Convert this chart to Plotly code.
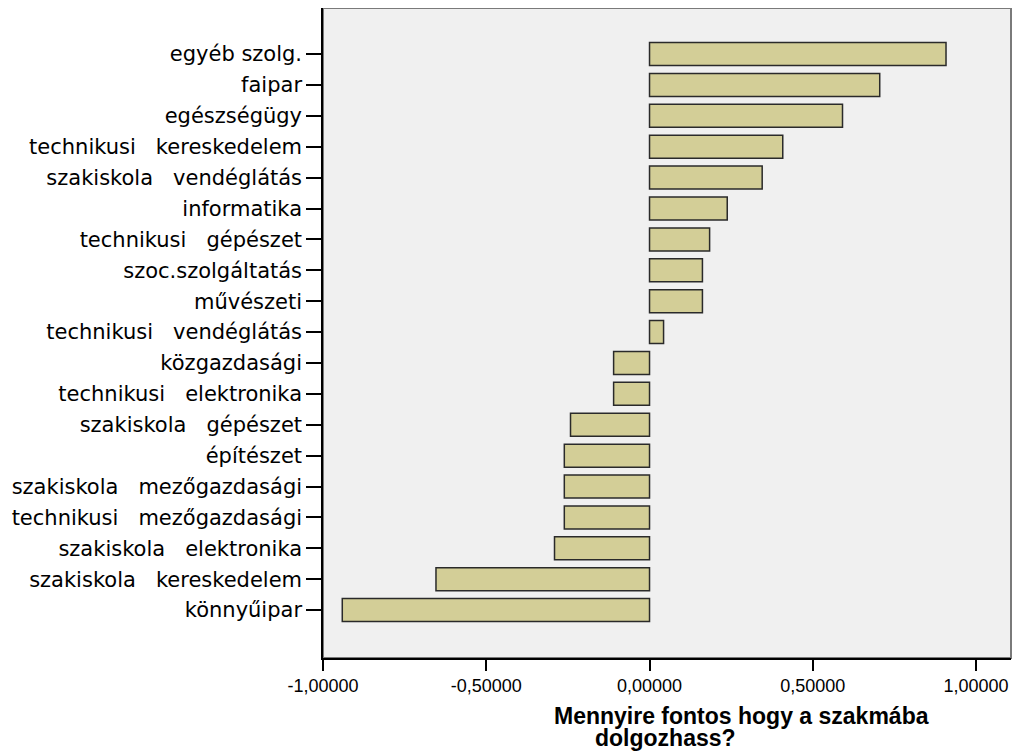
import plotly.graph_objects as go

categories = [
    "egyéb szolg.",
    "faipar",
    "egészségügy",
    "technikusi\u00a0\u00a0\u00a0kereskedelem",
    "szakiskola\u00a0\u00a0\u00a0vendéglátás",
    "informatika",
    "technikusi\u00a0\u00a0\u00a0gépészet",
    "szoc.szolgáltatás",
    "művészeti",
    "technikusi\u00a0\u00a0\u00a0vendéglátás",
    "közgazdasági",
    "technikusi\u00a0\u00a0\u00a0elektronika",
    "szakiskola\u00a0\u00a0\u00a0gépészet",
    "építészet",
    "szakiskola\u00a0\u00a0\u00a0mezőgazdasági",
    "technikusi\u00a0\u00a0\u00a0mezőgazdasági",
    "szakiskola\u00a0\u00a0\u00a0elektronika",
    "szakiskola\u00a0\u00a0\u00a0kereskedelem",
    "könnyűipar",
]
values = [0.908, 0.705, 0.591, 0.408, 0.345, 0.238, 0.184, 0.162, 0.162, 0.043,
          -0.110, -0.110, -0.242, -0.261, -0.261, -0.261, -0.291, -0.654, -0.941]

tick_values = [-1.0, -0.5, 0.0, 0.5, 1.0]
tick_labels = ["-1,00000", "-0,50000", "0,00000", "0,50000", "1,00000"]

title_line1 = "Mennyire fontos hogy a szakmába"
title_line2 = "dolgozhass?"

# page has an 8px body margin; figure coordinates are shifted accordingly
W, H = 1005, 746
L, R, T, B = 315, 2, 0, 96
plot_h = H - T - B
plot_w = W - L - R

def py(page_y):
    return (658 - page_y) / plot_h

def px(page_x):
    return (page_x - 8 - L) / plot_w

fig = go.Figure(go.Bar(
    x=values, y=categories, orientation="h",
    width=0.745,
    marker=dict(color="#D3CE97", line=dict(color="#2a2a2a", width=1.5)),
    hoverinfo="x+y",
))

title_font = dict(family="Liberation Sans", size=23, color="black", weight="bold")

fig.update_layout(
    width=W, height=H,
    margin=dict(l=L, r=R, t=T, b=B),
    paper_bgcolor="white", plot_bgcolor="#F0F0F0",
    showlegend=False,
    shapes=[dict(type="rect", xref="paper", yref="paper", x0=0, x1=1, y0=0, y1=1,
                 line=dict(color="#7a7a7a", width=2), layer="below")],
    annotations=[
        dict(text=title_line1, xref="paper", yref="paper", x=px(552), y=py(716),
             xanchor="left", yanchor="middle", showarrow=False, font=title_font),
        dict(text=title_line2, xref="paper", yref="paper", x=px(593), y=py(738),
             xanchor="left", yanchor="middle", showarrow=False, font=title_font),
    ],
)

fig.update_xaxes(
    range=[-1.0, 1.107], tickvals=tick_values, ticktext=tick_labels,
    showgrid=False, zeroline=False,
    showline=True, linecolor="black", linewidth=1.5,
    ticks="outside", ticklen=11, tickwidth=1.5, tickcolor="black",
    tickfont=dict(family="Liberation Sans", size=18, color="black"),
)
fig.update_yaxes(
    categoryorder="array", categoryarray=categories,
    range=[19.55, -1.49],
    showgrid=False, zeroline=False,
    showline=True, linecolor="black", linewidth=1.5,
    ticks="outside", ticklen=15, tickwidth=1.5, tickcolor="black",
    tickfont=dict(family="DejaVu Sans", size=21, color="black"),
)

fig.write_html("out.html")
